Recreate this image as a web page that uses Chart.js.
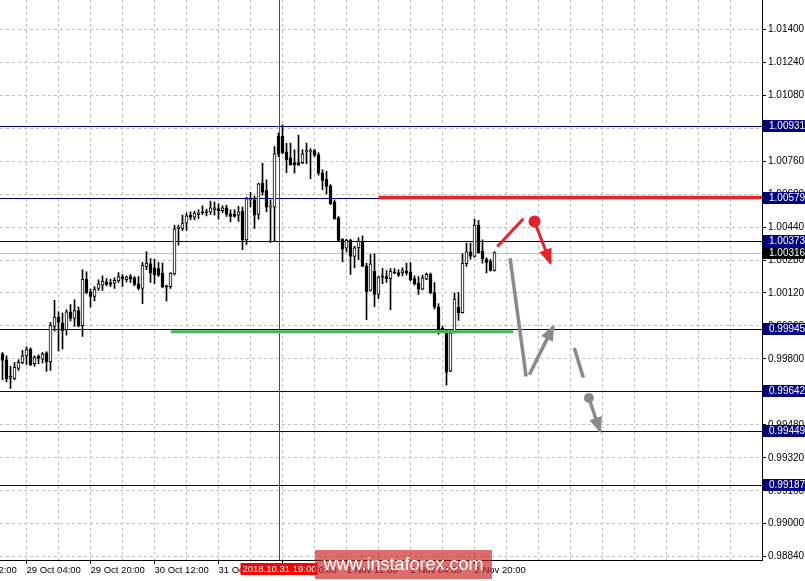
<!DOCTYPE html>
<html>
<head>
<meta charset="utf-8">
<script src="https://cdn.jsdelivr.net/npm/chart.js@4/dist/chart.umd.min.js"></script>
<style>html,body{margin:0;padding:0;background:#fff;overflow:hidden}</style>
</head>
<body>
<canvas id="chart" width="805" height="581"></canvas>
<script>
// hourly candles, 28 Oct 22:00 -> 2 Nov 23:00
const open = [0.99825,0.99796,0.99705,0.99705,0.99754,0.99780,0.99815,0.99848,0.99777,0.99812,
  0.99799,0.99829,0.99786,0.99958,1.00003,0.99974,0.99942,1.00029,0.99996,1.00035,
  0.99961,1.00187,1.00126,1.00103,1.00142,1.00158,1.00174,1.00171,1.00168,1.00178,
  1.00200,1.00184,1.00200,1.00194,1.00165,1.00142,1.00249,1.00262,1.00242,1.00239,
  1.00217,1.00155,1.00151,1.00213,1.00433,1.00433,1.00459,1.00498,1.00488,1.00501,
  1.00514,1.00514,1.00514,1.00524,1.00530,1.00520,1.00533,1.00504,1.00504,1.00498,
  1.00517,1.00378,1.00572,1.00572,1.00501,1.00653,1.00617,1.00537,1.00537,1.00882,
  1.00882,1.00805,1.00776,1.00753,1.00753,1.00753,1.00805,1.00805,1.00811,1.00792,
  1.00702,1.00672,1.00640,1.00562,1.00485,1.00381,1.00338,1.00375,1.00297,1.00339,
  1.00368,1.00252,1.00132,1.00226,1.00113,1.00203,1.00200,1.00190,1.00223,1.00219,
  1.00217,1.00226,1.00223,1.00190,1.00168,1.00139,1.00187,1.00210,1.00122,1.00052,
  0.99948,0.99926,0.99741,0.99928,1.00052,1.00025,1.00262,1.00320,1.00297,1.00449,
  1.00323,1.00284,1.00275,1.00229];
const high = [0.99831,0.99815,0.99764,0.99783,0.99796,0.99841,0.99859,0.99854,0.99815,0.99820,
  0.99831,0.99835,0.99977,1.00084,1.00029,1.00023,1.00039,1.00064,1.00087,1.00052,
  1.00233,1.00223,1.00139,1.00151,1.00184,1.00203,1.00190,1.00187,1.00194,1.00219,
  1.00210,1.00203,1.00210,1.00200,1.00200,1.00268,1.00320,1.00287,1.00284,1.00268,
  1.00265,1.00158,1.00219,1.00449,1.00449,1.00498,1.00508,1.00514,1.00517,1.00524,
  1.00543,1.00527,1.00566,1.00562,1.00553,1.00543,1.00546,1.00524,1.00524,1.00540,
  1.00537,1.00585,1.00608,1.00591,1.00653,1.00750,1.00669,1.00572,1.00831,1.00896,
  1.00936,1.00847,1.00847,1.00815,1.00886,1.00815,1.00847,1.00821,1.00818,1.00801,
  1.00718,1.00711,1.00646,1.00572,1.00491,1.00384,1.00381,1.00381,1.00346,1.00388,
  1.00397,1.00265,1.00307,1.00310,1.00203,1.00239,1.00229,1.00239,1.00239,1.00233,
  1.00242,1.00265,1.00268,1.00203,1.00200,1.00207,1.00217,1.00217,1.00171,1.00068,
  0.99958,0.99938,0.99938,1.00120,1.00122,1.00310,1.00362,1.00362,1.00478,1.00472,
  1.00378,1.00291,1.00284,1.00320];
const low = [0.99699,0.99689,0.99657,0.99699,0.99744,0.99777,0.99772,0.99767,0.99764,0.99777,
  0.99780,0.99739,0.99744,0.99935,0.99838,0.99848,0.99916,0.99984,0.99958,0.99955,
  0.99909,1.00116,1.00052,1.00081,1.00132,1.00132,1.00155,1.00151,1.00142,1.00171,
  1.00151,1.00174,1.00171,1.00155,1.00135,1.00068,1.00233,1.00171,1.00165,1.00200,
  1.00145,1.00081,1.00142,1.00207,1.00352,1.00423,1.00423,1.00475,1.00475,1.00481,
  1.00501,1.00494,1.00501,1.00498,1.00478,1.00510,1.00491,1.00465,1.00488,1.00467,
  1.00330,1.00355,1.00537,1.00433,1.00478,1.00595,1.00514,1.00365,1.00372,1.00782,
  1.00795,1.00704,1.00740,1.00702,1.00740,1.00747,1.00747,1.00675,1.00782,1.00692,
  1.00621,1.00601,1.00549,1.00478,1.00372,1.00271,1.00320,1.00210,1.00242,1.00281,
  1.00249,0.99990,1.00129,1.00054,1.00093,1.00165,1.00171,1.00039,1.00213,1.00200,
  1.00203,1.00207,1.00178,1.00158,1.00113,1.00135,1.00184,1.00116,1.00042,0.99919,
  0.99932,0.99673,0.99738,0.99926,0.99987,1.00023,1.00249,1.00284,1.00294,1.00313,
  1.00265,1.00217,1.00226,1.00226];
const close = [0.99793,0.99704,0.99715,0.99759,0.99783,0.99815,0.99845,0.99772,0.99809,0.99802,
  0.99825,0.99786,0.99964,1.00003,0.99977,0.99938,1.00029,0.99996,1.00035,0.99961,
  1.00187,1.00122,1.00103,1.00139,1.00165,1.00178,1.00161,1.00161,1.00181,1.00200,
  1.00187,1.00197,1.00187,1.00161,1.00142,1.00255,1.00265,1.00219,1.00207,1.00207,
  1.00151,1.00149,1.00217,1.00431,1.00440,1.00459,1.00494,1.00488,1.00508,1.00508,
  1.00508,1.00508,1.00533,1.00533,1.00520,1.00533,1.00501,1.00491,1.00491,1.00514,
  1.00378,1.00578,1.00578,1.00498,1.00650,1.00608,1.00537,1.00543,1.00795,1.00795,
  1.00801,1.00766,1.00743,1.00743,1.00740,1.00795,1.00811,1.00811,1.00789,1.00702,
  1.00666,1.00637,1.00553,1.00481,1.00375,1.00333,1.00375,1.00297,1.00339,1.00372,
  1.00249,1.00126,1.00262,1.00113,1.00197,1.00197,1.00190,1.00226,1.00217,1.00207,
  1.00229,1.00219,1.00184,1.00165,1.00139,1.00194,1.00210,1.00120,1.00052,0.99942,
  0.99938,0.99734,0.99926,1.00090,1.00025,1.00265,1.00320,1.00297,1.00449,1.00316,
  1.00287,1.00268,1.00229,1.00316];

const yTicks = [1.01400,1.01240,1.01080,1.00920,1.00760,1.00600,1.00440,1.00280,1.00120,
  0.99960,0.99800,0.99640,0.99480,0.99320,0.99160,0.99000,0.98840];
const xTickIdx = [6, 22, 38, 54, 70, 86, 102, 118];
const xTickLabels = ['29 Oct 04:00','29 Oct 20:00','30 Oct 12:00','31 Oct 04:00',
  '31 Oct 20:00','1 Nov 12:00','2 Nov 04:00','2 Nov 20:00'];
const levels = [1.00931, 1.00579, 1.00373, 0.99945, 0.99642, 0.99449, 0.99187];
const lastPrice = 1.00316;
const markerIdx = 69;
const markerLabel = '2018.10.31 19:00';

// hand-drawn forecast marks, in (bar index, price)
const redLevel = [{x: 94, y: 1.00583}, {x: 190, y: 1.00583}];
const greenLevel = [{x: 42.1, y: 0.99932}, {x: 127.7, y: 0.99932}];
const redStroke = [{x: 123.7, y: 1.00346}, {x: 130.2, y: 1.00480}];
const redDot = [{x: 133.0, y: 1.00467}];
const redArrow = [{x: 133.0, y: 1.00467}, {x: 137.0, y: 1.00265}];
const grayStroke = [{x: 126.9, y: 1.00289}, {x: 130.9, y: 0.99715}];
const grayArrow = [{x: 131.7, y: 0.99723}, {x: 137.7, y: 0.99958}];
const grayDash = [{x: 142.95, y: 0.99853}, {x: 145.2, y: 0.99710}];
const grayDot = [{x: 146.6, y: 0.99610}];
const grayArrow2 = [{x: 146.6, y: 0.99610}, {x: 149.4, y: 0.99448}];

const RED = '#e8212b', GRAY = '#8a8a8a', NAVY = '#000080';

const wicks = open.map((o, i) => ({x: i, y: [low[i], high[i]]}));
const bodies = open.map((o, i) => ({x: i, y: [o, close[i]]}));
const bodyColors = open.map((o, i) => close[i] >= o ? '#ffffff' : '#000000');

function seg(data, color, width, extra) {
  return Object.assign({type: 'line', data, borderColor: color, backgroundColor: color,
    borderWidth: width, pointRadius: 0, borderCapStyle: 'butt', order: 0}, extra || {});
}
function dot(data, color, r) {
  return {type: 'line', data, showLine: false, pointRadius: r, pointBackgroundColor: color,
    pointBorderWidth: 0, order: 0};
}

const marks = {
  id: 'marks',
  beforeDatasetsDraw(chart) {
    const {ctx, chartArea: a, scales: {x, y}} = chart;
    ctx.save();
    ctx.lineWidth = 1;
    ctx.strokeStyle = '#c0c0c0';
    let py = Math.round(y.getPixelForValue(lastPrice)) + 0.5;
    ctx.beginPath(); ctx.moveTo(a.left, py); ctx.lineTo(a.right, py); ctx.stroke();
    ctx.strokeStyle = NAVY;
    levels.forEach(v => {
      const p = Math.round(y.getPixelForValue(v)) + 0.5;
      ctx.beginPath(); ctx.moveTo(a.left, p); ctx.lineTo(a.right, p); ctx.stroke();
    });
    ctx.strokeStyle = '#ff0000';
    const px = Math.round(x.getPixelForValue(markerIdx)) + 0.5;
    ctx.beginPath(); ctx.moveTo(px, a.top); ctx.lineTo(px, a.bottom); ctx.stroke();
    ctx.restore();
  },
  afterDatasetsDraw(chart) {
    const ctx = chart.ctx;
    ctx.save();
    chart.data.datasets.forEach((ds, di) => {
      if (!ds.arrow) return;
      const pts = chart.getDatasetMeta(di).data;
      const p0 = pts[0], p1 = pts[pts.length - 1];
      const ang = Math.atan2(p1.y - p0.y, p1.x - p0.x);
      const len = 16, half = 6.5;
      const tx = p1.x + Math.cos(ang) * 2, ty = p1.y + Math.sin(ang) * 2;
      const bx = tx - Math.cos(ang) * len, by = ty - Math.sin(ang) * len;
      ctx.fillStyle = ds.borderColor;
      ctx.beginPath();
      ctx.moveTo(tx, ty);
      ctx.lineTo(bx + Math.sin(ang) * half, by - Math.cos(ang) * half);
      ctx.lineTo(bx - Math.sin(ang) * half, by + Math.cos(ang) * half);
      ctx.closePath();
      ctx.fill();
    });
    ctx.restore();
  },
  afterDraw(chart) {
    const {ctx, chartArea: a, scales: {x, y}} = chart;
    ctx.save();
    // first x label, cut by the left edge
    ctx.font = '9.5px "Liberation Sans"';
    ctx.fillStyle = '#000';
    ctx.textBaseline = 'top';
    ctx.textAlign = 'left';
    ctx.fillText('28 Oct 12:00', x.getPixelForValue(-10), a.bottom + 6);
    // price boxes on the axis
    ctx.font = '10px "Liberation Sans"';
    ctx.textBaseline = 'middle';
    const box = (v, bg) => {
      const p = Math.round(y.getPixelForValue(v));
      ctx.fillStyle = bg;
      ctx.fillRect(a.right + 1, p - 6, 805 - a.right, 12);
      ctx.fillStyle = '#fff';
      ctx.fillText(v.toFixed(5), a.right + 7, p + 0.5);
    };
    levels.forEach(v => box(v, NAVY));
    box(lastPrice, '#000');
    // date of the marker line
    const px = Math.round(x.getPixelForValue(markerIdx)) + 0.5;
    ctx.font = '9.5px "Liberation Sans"';
    ctx.textAlign = 'center';
    ctx.fillStyle = '#ff0000';
    ctx.fillRect(px - 39, a.bottom + 3, 77, 12);
    ctx.fillStyle = '#fff';
    ctx.fillText(markerLabel, px, a.bottom + 9.5);
    // watermark
    ctx.fillStyle = 'rgba(200,30,30,0.65)';
    ctx.fillRect(315, a.bottom - 10, 177, 29);
    ctx.fillStyle = '#fff';
    ctx.font = '18px "Liberation Sans"';
    ctx.fillText('www.instaforex.com', 403.5, a.bottom + 5);
    ctx.restore();
  }
};

new Chart(document.getElementById('chart'), {
  type: 'bar',
  data: {
    datasets: [
      seg(redLevel, RED, 3.5),
      seg(greenLevel, '#3cb95a', 3),
      seg(redStroke, RED, 3),
      seg(redArrow, RED, 3, {arrow: true}),
      dot(redDot, RED, 6),
      seg(grayStroke, GRAY, 3.5),
      seg(grayArrow, GRAY, 3.5, {arrow: true}),
      seg(grayDash, GRAY, 3.5),
      seg(grayArrow2, GRAY, 3.5, {arrow: true}),
      dot(grayDot, GRAY, 5),
      {type: 'bar', data: bodies, barThickness: 3, backgroundColor: bodyColors,
        borderColor: '#000', borderWidth: 1, borderSkipped: false, grouped: false, order: 1},
      {type: 'bar', data: wicks, barThickness: 1, backgroundColor: '#000',
        borderWidth: 0, grouped: false, order: 2}
    ]
  },
  options: {
    responsive: false,
    animation: false,
    events: [],
    layout: {padding: 0, autoPadding: false},
    plugins: {legend: {display: false}, tooltip: {enabled: false}},
    scales: {
      x: {
        type: 'linear', min: -0.625, max: 189.875, offset: false,
        afterBuildTicks: s => {
          const t = [];
          for (let v = 6; v < 190; v += 8) t.push({value: v});
          s.ticks = t;
        },
        afterFit: s => { s.height = 21; s.paddingLeft = 0; s.paddingRight = 0; },
        grid: {offset: false, color: '#c0c0c0', tickLength: 4,
          tickColor: c => xTickIdx.includes(c.tick && c.tick.value) ? '#000' : 'rgba(0,0,0,0)'},
        border: {display: true, color: '#000', dash: [3, 3]},
        ticks: {
          autoSkip: false, maxRotation: 0, align: 'start', padding: 1, color: '#000',
          font: {family: 'Liberation Sans', size: 9.5},
          callback: v => { const k = xTickIdx.indexOf(v); return k < 0 ? '' : xTickLabels[k]; }
        }
      },
      y: {
        type: 'linear', position: 'right', min: 0.98824, max: 1.01542, beginAtZero: false,
        afterBuildTicks: s => { s.ticks = yTicks.map(v => ({value: v})); },
        afterFit: s => { s.width = 43; s.paddingTop = 0; s.paddingBottom = 0; },
        grid: {color: '#c0c0c0', tickLength: 4, tickColor: '#000'},
        border: {display: true, color: '#000', dash: [3, 3]},
        ticks: {padding: 2, color: '#000', font: {family: 'Liberation Sans', size: 10},
          callback: v => v.toFixed(5)}
      }
    }
  },
  plugins: [marks]
});
</script>
</body>
</html>
